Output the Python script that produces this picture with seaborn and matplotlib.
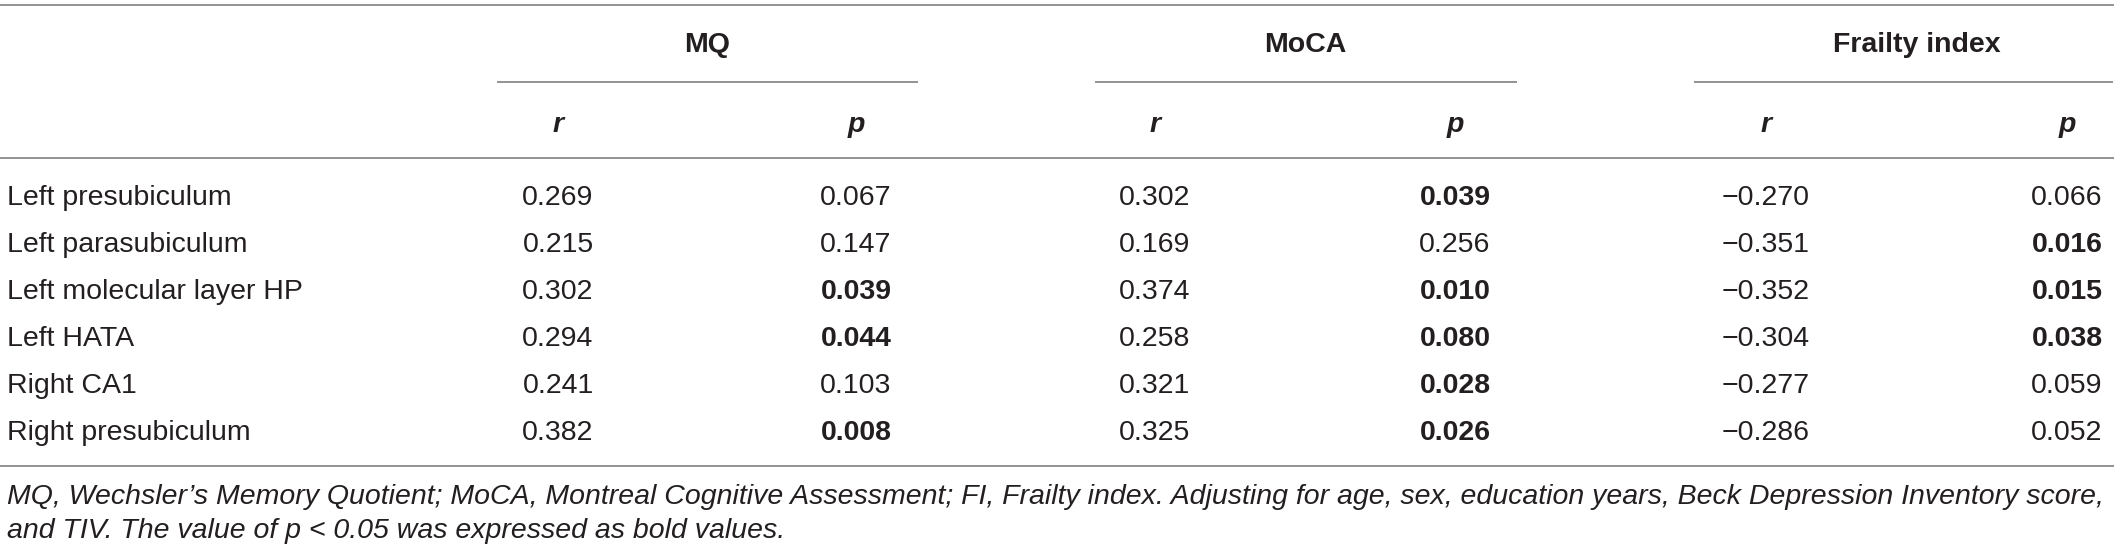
import matplotlib
matplotlib.use("Agg")
import matplotlib.pyplot as plt
import seaborn as sns
import pandas as pd

# ---------------- data ----------------
regions = ["Left presubiculum", "Left parasubiculum", "Left molecular layer HP",
           "Left HATA", "Right CA1", "Right presubiculum"]
groups = ["MQ", "MoCA", "Frailty index"]
mq_r = [0.269, 0.215, 0.302, 0.294, 0.241, 0.382]
mq_p = [0.067, 0.147, 0.039, 0.044, 0.103, 0.008]
moca_r = [0.302, 0.169, 0.374, 0.258, 0.321, 0.325]
moca_p = [0.039, 0.256, 0.010, 0.080, 0.028, 0.026]
fi_r = [-0.270, -0.351, -0.352, -0.304, -0.277, -0.286]
fi_p = [0.066, 0.016, 0.015, 0.038, 0.059, 0.052]
mq_p_bold = [False, False, True, True, False, True]
moca_p_bold = [True, False, True, True, True, True]
fi_p_bold = [False, True, True, True, False, False]
footnote = ["MQ, Wechsler\u2019s Memory Quotient; MoCA, Montreal Cognitive Assessment; FI, Frailty index. "
            "Adjusting for age, sex, education years, Beck Depression Inventory score,",
            "and TIV. The value of p < 0.05 was expressed as bold values."]

df = pd.DataFrame({"region": regions,
                   "MQ_r": mq_r, "MQ_p": mq_p,
                   "MoCA_r": moca_r, "MoCA_p": moca_p,
                   "FI_r": fi_r, "FI_p": fi_p})

# ---------------- style ----------------
sns.set_theme(style="white")
plt.rcParams["font.family"] = ["Liberation Sans", "DejaVu Sans"]

W, H = 2118, 552
fig = plt.figure(figsize=(W / 100, H / 100), dpi=100)
ax = fig.add_axes([0, 0, 1, 1])
ax.set_xlim(0, W)
ax.set_ylim(H, 0)
ax.axis("off")
sns.despine(ax=ax, left=True, bottom=True)

TXT = "#231f20"
RULE = "#8a8a8a"
FS = 20.5
LW = 1.3

def fmt(v):
    s = f"{abs(v):.3f}"
    return ("\u2212" + s) if v < 0 else s

# column geometry (pixels)
col_x = {"MQ_r": 558, "MQ_p": 856, "MoCA_r": 1155, "MoCA_p": 1455,
         "FI_r": 1766, "FI_p": 2067}
group_cols = [("MQ", "MQ_r", "MQ_p", 497, 918),
              ("MoCA", "MoCA_r", "MoCA_p", 1095, 1517),
              ("Frailty index", "FI_r", "FI_p", 1694, 2113)]
bold_map = {"MQ_p": mq_p_bold, "MoCA_p": moca_p_bold, "FI_p": fi_p_bold}
row_base = [205, 252, 299, 346, 393, 440]

# rules
ax.hlines([5, 158, 466], 0, W - 4, color=RULE, lw=LW)
for name, c_r, c_p, x0, x1 in group_cols:
    ax.hlines(82, x0, x1, color=RULE, lw=LW)
    ax.text((col_x[c_r] + col_x[c_p]) / 2, 52, name, ha="center", va="baseline",
            fontsize=FS, fontweight="bold", color=TXT)
    ax.text(col_x[c_r], 132, "r", ha="center", va="baseline", fontsize=FS,
            fontweight="bold", fontstyle="italic", color=TXT)
    ax.text(col_x[c_p], 132, "p", ha="center", va="baseline", fontsize=FS,
            fontweight="bold", fontstyle="italic", color=TXT)

# body
for i, row in df.iterrows():
    y = row_base[i]
    ax.text(7, y, row["region"], ha="left", va="baseline", fontsize=FS, color=TXT)
    for c in ["MQ_r", "MQ_p", "MoCA_r", "MoCA_p", "FI_r", "FI_p"]:
        bold = bold_map.get(c, [False] * 6)[i]
        ax.text(col_x[c], y, fmt(row[c]), ha="center", va="baseline", fontsize=FS,
                fontweight="bold" if bold else "normal", color=TXT)

# footnote
ax.text(7, 504, footnote[0], ha="left", va="baseline", fontsize=FS,
        fontstyle="italic", color=TXT)
ax.text(7, 538, footnote[1], ha="left", va="baseline", fontsize=FS,
        fontstyle="italic", color=TXT)

fig.savefig("out.png", dpi=100, facecolor="white")
